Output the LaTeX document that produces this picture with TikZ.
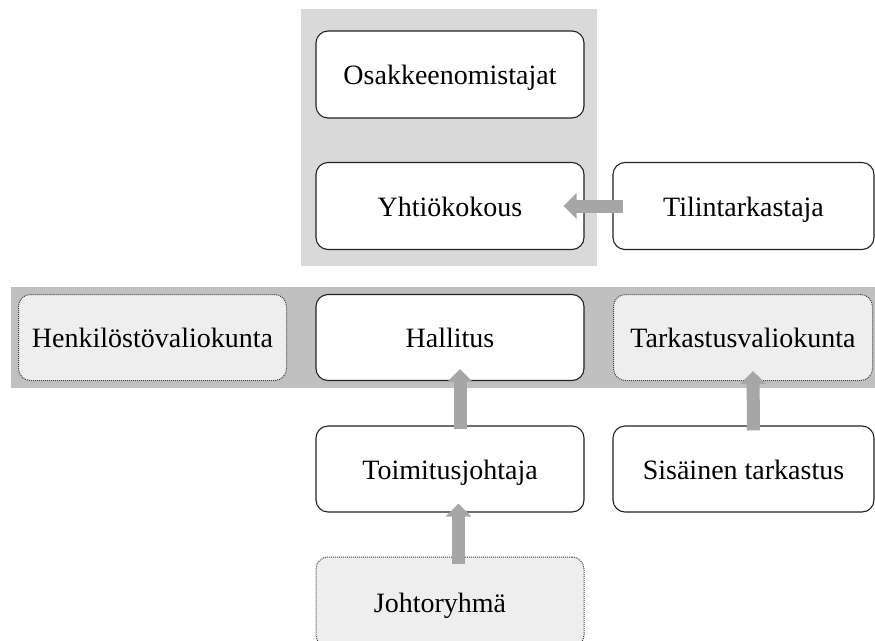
\documentclass[tikz,border=0pt]{standalone}
\usepackage{fontspec}
\setmainfont{Liberation Serif}
\usetikzlibrary{arrows.meta,calc}
\definecolor{bgtop}{HTML}{D9D9D9}
\definecolor{bgband}{HTML}{C0C0C0}
\definecolor{arrowgray}{HTML}{A6A6A6}
\definecolor{dotfill}{HTML}{EEEEEE}
\definecolor{edgecol}{HTML}{222222}
\begin{document}
\begin{tikzpicture}[x=1pt,y=-1pt,
  txt/.style={font=\fontsize{28}{32}\selectfont, text height=22pt, text depth=2pt},
  box/.style={txt, draw=edgecol, line width=1.1pt, fill=white, rounded corners=12pt},
  dotbox/.style={txt, draw=edgecol!85, densely dotted, line width=1pt, fill=dotfill, rounded corners=12pt},
  blockarrow/.style={line width=13pt, draw=arrowgray, -{Triangle[width=25pt,length=13pt]}}]
\useasboundingbox (0,0) rectangle (875,640);
\clip (0,0) rectangle (875,640);
\fill[bgtop] (301,9) rectangle (597,266);
\fill[bgband] (11,287) rectangle (875,388);
% nodes
\node[box, minimum width=268pt, minimum height=87pt] (osa) at (450,74.5) {Osakkeenomistajat};
\node[box, minimum width=268pt, minimum height=87pt] (yht) at (450,206) {Yhtiökokous};
\node[box, minimum width=261pt, minimum height=87pt] (til) at (743.5,206) {Tilintarkastaja};
\node[dotbox, minimum width=268pt, minimum height=86pt] (hen) at (152.5,337.5) {Henkilöstövaliokunta};
\node[box, minimum width=268pt, minimum height=86pt] (hal) at (450,337.5) {Hallitus};
\node[dotbox, minimum width=259pt, minimum height=86pt] (tar) at (743,337.5) {Tarkastusvaliokunta};
\node[box, minimum width=268pt, minimum height=86pt] (toi) at (450,469) {Toimitusjohtaja};
\node[box, minimum width=261pt, minimum height=86pt] (sis) at (743.5,469) {Sisäinen tarkastus};
\node[dotbox, minimum width=268pt, minimum height=90pt] (joh) at (450,602) {\hspace*{-20pt}Johtoryhmä};
% arrows
\draw[blockarrow] ($(til.west)+(11,0)$) -- ($(yht.east)+(-21,0)$);
\draw[blockarrow] ($(toi.north)+(10,4)$) -- ($(hal.south)+(10,-12)$);
\draw[blockarrow] ($(sis.north)+(10,5)$) -- ($(tar.south)+(10,-10)$);
\draw[blockarrow] ($(joh.north)+(8.5,7)$) -- ($(toi.south)+(8.5,-9)$);
\end{tikzpicture}
\end{document}
